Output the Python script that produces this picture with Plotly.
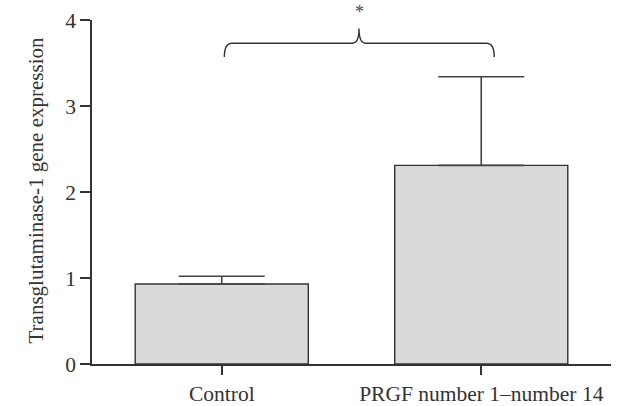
import plotly.graph_objects as go

# Group labels and measured expression (mean and upper SD)
categories = ["Control", "PRGF number 1\u2013number 14"]
means = [0.93, 2.31]
errors_up = [0.09, 1.03]
y_ticks = [0, 1, 2, 3, 4]
y_title = "Transglutaminase-1 gene expression"
significance = "*"

FONT = "Liberation Serif, Times New Roman, serif"
INK = "#333333"
x_pos = list(range(len(categories)))

fig = go.Figure()
fig.add_trace(go.Bar(
    x=x_pos,
    y=means,
    width=0.667,
    marker=dict(color="#d9dadc", line=dict(color=INK, width=1.4)),
    error_y=dict(type="data", array=errors_up, arrayminus=[0] * len(means),
                 symmetric=False, color="#444444", thickness=1.6, width=43),
    showlegend=False,
    hoverinfo="skip",
))

# Significance brace between the two groups
bl, br, peak = 0.01, 1.05, 0.529
y_end, y_bar, y_top = 3.57, 3.73, 3.90
brace = (
    f"M {bl},{y_end} Q {bl},{y_bar} {bl + 0.03},{y_bar} "
    f"L {peak - 0.025},{y_bar} Q {peak},{y_bar} {peak},{y_top} "
    f"Q {peak},{y_bar} {peak + 0.025},{y_bar} "
    f"L {br - 0.03},{y_bar} Q {br},{y_bar} {br},{y_end}"
)
fig.add_shape(type="path", path=brace, xref="x", yref="y",
              line=dict(color=INK, width=1.4))
fig.add_annotation(x=peak, y=1.0, xref="x", yref="paper", text=significance,
                   showarrow=False, font=dict(family=FONT, size=18, color="#444"),
                   xanchor="center", yanchor="middle", yshift=8)

# Rotated y-axis title
fig.add_annotation(x=0, y=0.5, xref="paper", yref="paper", text=y_title,
                   textangle=-90, showarrow=False, xanchor="center", yanchor="middle",
                   xshift=-57, yshift=1.5,
                   font=dict(family=FONT, size=21, color=INK))

fig.update_layout(
    width=619, height=406,
    margin=dict(l=92, r=8, t=19.5, b=41.5, autoexpand=False),
    paper_bgcolor="white", plot_bgcolor="white",
    font=dict(family=FONT, size=21.5, color=INK),
    xaxis=dict(range=[-0.5, 1.5], tickvals=x_pos, ticktext=categories,
               showline=True, linecolor=INK, linewidth=1.5,
               ticks="outside", ticklen=9, tickwidth=1.5, tickcolor=INK,
               showgrid=False, zeroline=False, fixedrange=True, automargin=False),
    yaxis=dict(range=[0, 4], tickvals=y_ticks,
               showline=True, linecolor=INK, linewidth=1.5,
               ticks="outside", ticklen=10, tickwidth=1.5, tickcolor=INK,
               showgrid=False, zeroline=False, fixedrange=True, automargin=False),
)

fig.write_html("out.html")
